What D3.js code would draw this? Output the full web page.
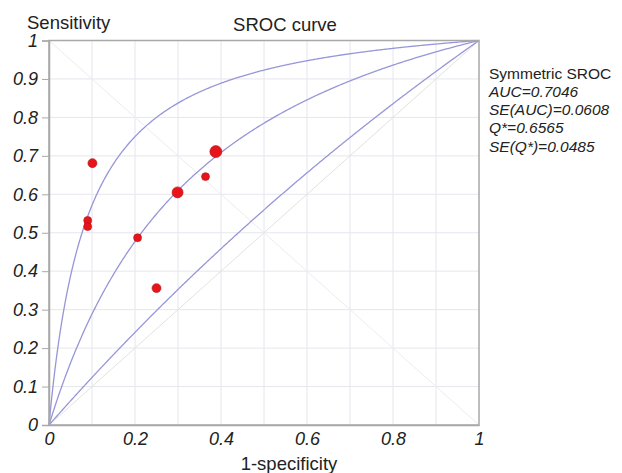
<!DOCTYPE html>
<html>
<head>
<meta charset="utf-8">
<script src="https://cdn.jsdelivr.net/npm/d3@7"></script>
<style>
  body { margin: 0; background: #fff; }
  text { font-family: "Liberation Sans", Arial, sans-serif; fill: #222; }
</style>
</head>
<body>
<div id="chart"></div>
<script>
// study points (1-specificity, sensitivity)
var fpr = [0.101, 0.090, 0.090, 0.206, 0.299, 0.388, 0.364, 0.250];
var sens = [0.681, 0.532, 0.516, 0.487, 0.605, 0.711, 0.646, 0.356];
var weight = [56, 44, 44, 44, 84, 100, 44, 56];

// diagnostic odds ratios of the three symmetric SROC lines (upper, fitted, lower)
var curveDOR = [12, 3.65, 1.27];

var tickValues = [0, 0.1, 0.2, 0.3, 0.4, 0.5, 0.6, 0.7, 0.8, 0.9, 1];
var yTickLabels = ["0", "0.1", "0.2", "0.3", "0.4", "0.5", "0.6", "0.7", "0.8", "0.9", "1"];
var xTickValues = [0, 0.2, 0.4, 0.6, 0.8, 1];
var xTickLabels = ["0", "0.2", "0.4", "0.6", "0.8", "1"];
var legendLines = ["Symmetric SROC", "AUC=0.7046", "SE(AUC)=0.0608", "Q*=0.6565", "SE(Q*)=0.0485"];

var margin = {top: 40.5, right: 143, bottom: 48, left: 49},
    width = 622 - margin.left - margin.right,
    height = 473 - margin.top - margin.bottom;

var svg = d3.select("#chart")
  .append("svg")
    .attr("width", 622)
    .attr("height", 473)
  .append("g")
    .attr("transform", "translate(" + margin.left + "," + margin.top + ")");

var x = d3.scaleLinear().domain([0, 1]).range([0, width]);
var y = d3.scaleLinear().domain([0, 1]).range([height, 0]);

// grid
svg.append("g").selectAll("line.gx")
  .data(tickValues.slice(1, -1)).enter().append("line")
    .attr("x1", d => x(d)).attr("x2", d => x(d))
    .attr("y1", 0).attr("y2", height)
    .style("stroke", "#e6e6ee").style("stroke-width", 1);
svg.append("g").selectAll("line.gy")
  .data(tickValues.slice(1, -1)).enter().append("line")
    .attr("y1", d => y(d)).attr("y2", d => y(d))
    .attr("x1", 0).attr("x2", width)
    .style("stroke", "#e6e6ee").style("stroke-width", 1);

// reference diagonals
svg.append("line")
  .attr("x1", x(0)).attr("y1", y(0)).attr("x2", x(1)).attr("y2", y(1))
  .style("stroke", "#e2e2dc").style("stroke-width", 1);
svg.append("line")
  .attr("x1", x(0)).attr("y1", y(1)).attr("x2", x(1)).attr("y2", y(0))
  .style("stroke", "#ececf0").style("stroke-width", 1);

// SROC curves: logit(sens) = ln(DOR) + logit(fpr)
var grid = d3.range(0, 1.0001, 0.002);
var line = d3.line()
  .x(d => x(d[0]))
  .y(d => y(d[1]));
curveDOR.forEach(function(dor) {
  var pts = grid.map(function(f) {
    if (f <= 0) return [0, 0];
    if (f >= 1) return [1, 1];
    var o = dor * f / (1 - f);
    return [f, o / (1 + o)];
  });
  svg.append("path")
    .datum(pts)
    .attr("d", line)
    .style("fill", "none")
    .style("stroke", "#9696d8")
    .style("stroke-width", 1.3);
});

// frame
svg.append("rect")
  .attr("x", 0).attr("y", 0).attr("width", width).attr("height", height)
  .style("fill", "none").style("stroke", "#a8a8a8").style("stroke-width", 1.5);

// y axis
var yAxis = svg.append("g")
  .call(d3.axisLeft(y).tickValues(tickValues).tickSize(7).tickFormat((d, i) => yTickLabels[i]));
yAxis.select(".domain").style("stroke", "#a8a8a8").style("stroke-width", 1.5);
yAxis.selectAll(".tick line").style("stroke", "#a8a8a8");
yAxis.selectAll(".tick text")
  .attr("x", -11)
  .style("font-family", "Liberation Sans, Arial, sans-serif")
  .style("font-size", "18px").style("font-style", "italic").style("fill", "#222");

// x axis
var xAxis = svg.append("g")
  .attr("transform", "translate(0," + height + ")")
  .call(d3.axisBottom(x).tickValues(xTickValues).tickSize(0).tickFormat((d, i) => xTickLabels[i]));
xAxis.select(".domain").style("stroke", "#a8a8a8").style("stroke-width", 1.5);
xAxis.selectAll(".tick text")
  .attr("y", 7)
  .style("font-family", "Liberation Sans, Arial, sans-serif")
  .style("font-size", "18px").style("font-style", "italic").style("fill", "#222");

// points
var r = d3.scaleSqrt().domain([0, d3.max(weight)]).range([0, 6]);
svg.append("g").selectAll("circle")
  .data(fpr).enter().append("circle")
    .attr("cx", (d, i) => x(d))
    .attr("cy", (d, i) => y(sens[i]))
    .attr("r", (d, i) => r(weight[i]))
    .style("fill", "#e8141c")
    .style("stroke", "#b01016")
    .style("stroke-width", 0.6);

// titles
svg.append("text")
  .attr("x", -22).attr("y", -12)
  .style("font-size", "18.5px")
  .text("Sensitivity");
svg.append("text")
  .attr("x", 236).attr("y", -10)
  .attr("text-anchor", "middle")
  .style("font-size", "18.5px")
  .text("SROC curve");
svg.append("text")
  .attr("x", 240).attr("y", height + 45)
  .attr("text-anchor", "middle")
  .style("font-size", "18.5px")
  .text("1-specificity");

// legend
var legend = svg.append("g").attr("transform", "translate(" + (width + 10) + ",38)");
legend.selectAll("text")
  .data(legendLines).enter().append("text")
    .attr("x", 0)
    .attr("y", (d, i) => i * 18.3)
    .style("font-size", "15.5px")
    .style("font-style", (d, i) => i === 0 ? "normal" : "italic")
    .text(d => d);
</script>
</body>
</html>
